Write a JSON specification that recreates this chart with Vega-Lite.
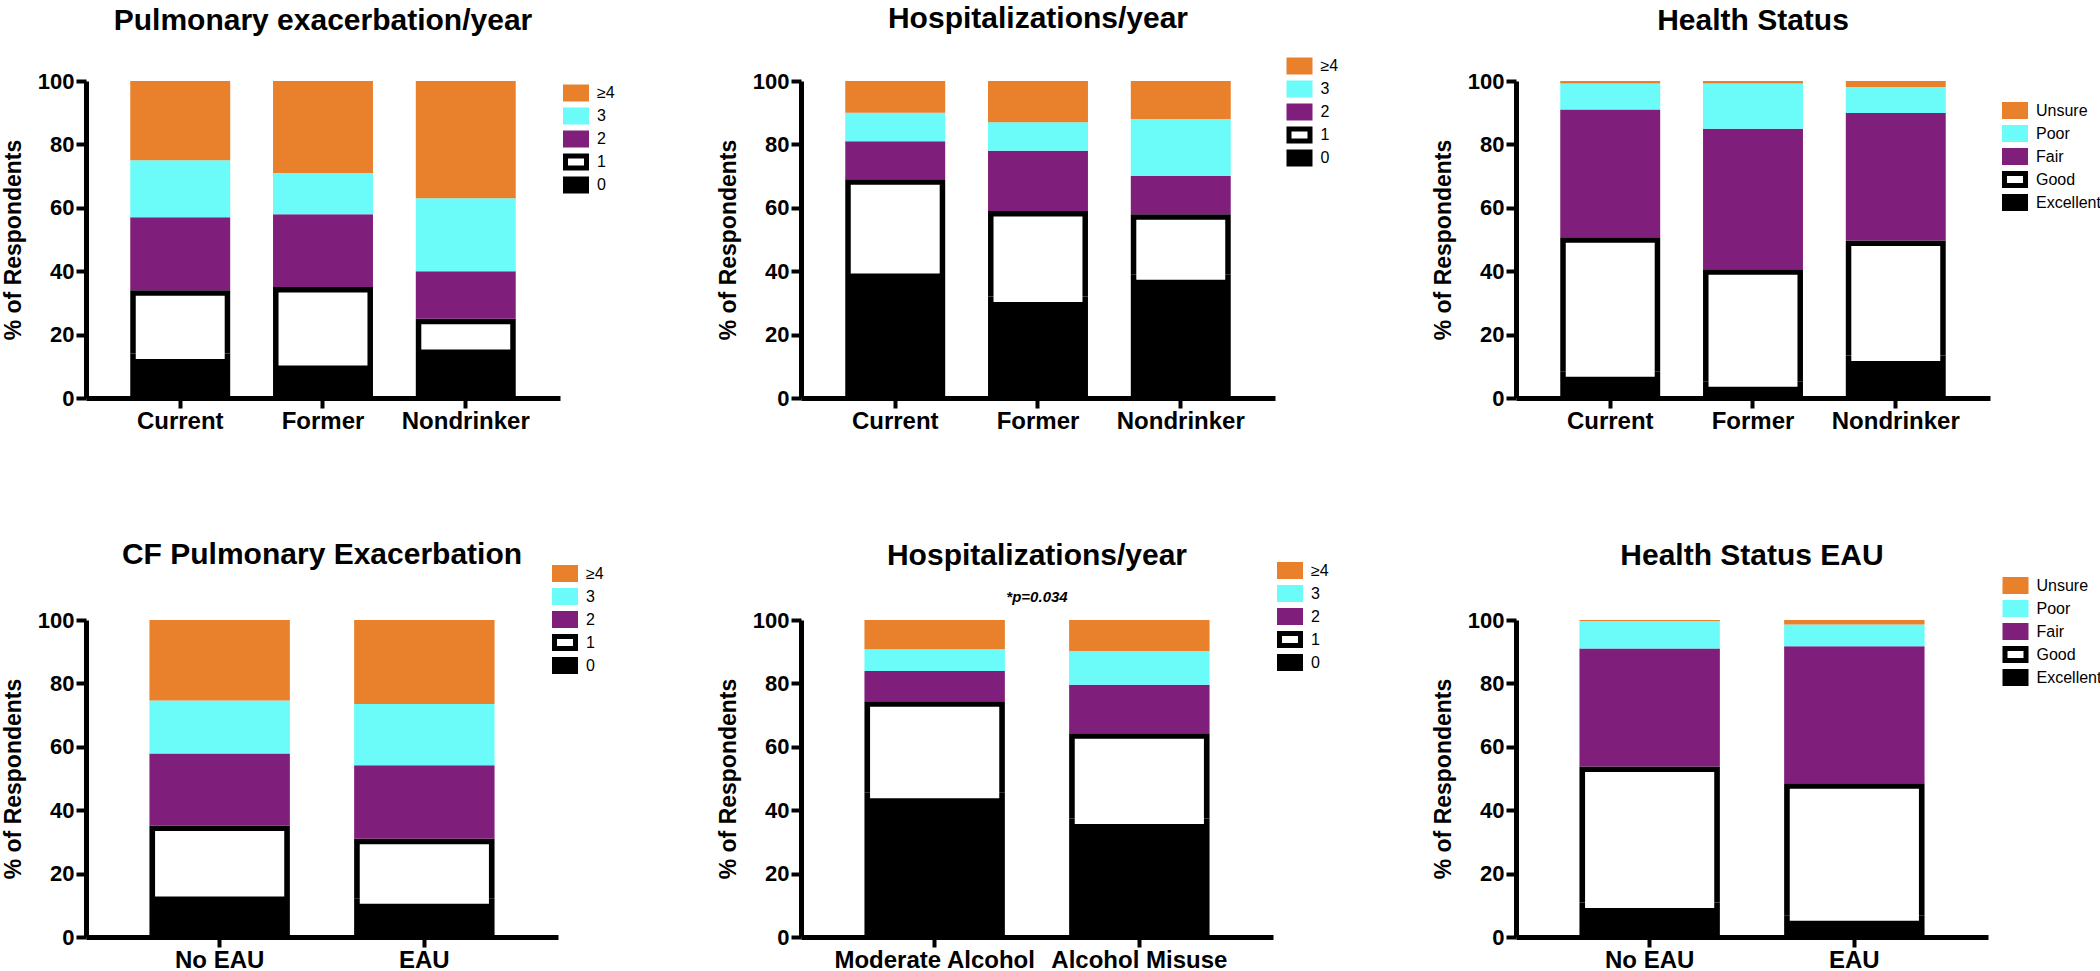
{
  "$schema": "https://vega.github.io/schema/vega-lite/v6.json",
  "padding": {"left": 2, "top": 3, "right": 0, "bottom": 0},
  "background": "white",
  "bounds": "flush",
  "spacing": 539,
  "resolve": {"scale": {"fill": "independent"}, "legend": {"fill": "independent"}},
  "datasets": {
    "pe": [
      {"g":"Current","c":"0","k":0,"v":14},{"g":"Current","c":"1","k":1,"v":20},{"g":"Current","c":"2","k":2,"v":23},{"g":"Current","c":"3","k":3,"v":18},{"g":"Current","c":"≥4","k":4,"v":25},
      {"g":"Former","c":"0","k":0,"v":12},{"g":"Former","c":"1","k":1,"v":23},{"g":"Former","c":"2","k":2,"v":23},{"g":"Former","c":"3","k":3,"v":13},{"g":"Former","c":"≥4","k":4,"v":29},
      {"g":"Nondrinker","c":"0","k":0,"v":17},{"g":"Nondrinker","c":"1","k":1,"v":8},{"g":"Nondrinker","c":"2","k":2,"v":15},{"g":"Nondrinker","c":"3","k":3,"v":23},{"g":"Nondrinker","c":"≥4","k":4,"v":37}
    ],
    "hosp": [
      {"g":"Current","c":"0","k":0,"v":41},{"g":"Current","c":"1","k":1,"v":28},{"g":"Current","c":"2","k":2,"v":12},{"g":"Current","c":"3","k":3,"v":9},{"g":"Current","c":"≥4","k":4,"v":10},
      {"g":"Former","c":"0","k":0,"v":32},{"g":"Former","c":"1","k":1,"v":27},{"g":"Former","c":"2","k":2,"v":19},{"g":"Former","c":"3","k":3,"v":9},{"g":"Former","c":"≥4","k":4,"v":13},
      {"g":"Nondrinker","c":"0","k":0,"v":39},{"g":"Nondrinker","c":"1","k":1,"v":19},{"g":"Nondrinker","c":"2","k":2,"v":12},{"g":"Nondrinker","c":"3","k":3,"v":18},{"g":"Nondrinker","c":"≥4","k":4,"v":12}
    ],
    "hs": [
      {"g":"Current","c":"Excellent","k":0,"v":8.4},{"g":"Current","c":"Good","k":1,"v":42.3},{"g":"Current","c":"Fair","k":2,"v":40.3},{"g":"Current","c":"Poor","k":3,"v":8.2},{"g":"Current","c":"Unsure","k":4,"v":0.8},
      {"g":"Former","c":"Excellent","k":0,"v":5.3},{"g":"Former","c":"Good","k":1,"v":35.3},{"g":"Former","c":"Fair","k":2,"v":44.3},{"g":"Former","c":"Poor","k":3,"v":14.3},{"g":"Former","c":"Unsure","k":4,"v":0.8},
      {"g":"Nondrinker","c":"Excellent","k":0,"v":13.4},{"g":"Nondrinker","c":"Good","k":1,"v":36.3},{"g":"Nondrinker","c":"Fair","k":2,"v":40.2},{"g":"Nondrinker","c":"Poor","k":3,"v":8.2},{"g":"Nondrinker","c":"Unsure","k":4,"v":1.9}
    ],
    "cfpe": [
      {"g":"No EAU","c":"0","k":0,"v":14.5},{"g":"No EAU","c":"1","k":1,"v":20.7},{"g":"No EAU","c":"2","k":2,"v":22.7},{"g":"No EAU","c":"3","k":3,"v":16.7},{"g":"No EAU","c":"≥4","k":4,"v":25.4},
      {"g":"EAU","c":"0","k":0,"v":12.2},{"g":"EAU","c":"1","k":1,"v":18.8},{"g":"EAU","c":"2","k":2,"v":23.2},{"g":"EAU","c":"3","k":3,"v":19.3},{"g":"EAU","c":"≥4","k":4,"v":26.5}
    ],
    "hosp2": [
      {"g":"Moderate Alcohol","c":"0","k":0,"v":45.5},{"g":"Moderate Alcohol","c":"1","k":1,"v":28.9},{"g":"Moderate Alcohol","c":"2","k":2,"v":9.5},{"g":"Moderate Alcohol","c":"3","k":3,"v":6.9},{"g":"Moderate Alcohol","c":"≥4","k":4,"v":9.2},
      {"g":"Alcohol Misuse","c":"0","k":0,"v":37.4},{"g":"Alcohol Misuse","c":"1","k":1,"v":26.9},{"g":"Alcohol Misuse","c":"2","k":2,"v":15.3},{"g":"Alcohol Misuse","c":"3","k":3,"v":10.6},{"g":"Alcohol Misuse","c":"≥4","k":4,"v":9.8}
    ],
    "hs2": [
      {"g":"No EAU","c":"Excellent","k":0,"v":10.9},{"g":"No EAU","c":"Good","k":1,"v":42.9},{"g":"No EAU","c":"Fair","k":2,"v":37.2},{"g":"No EAU","c":"Poor","k":3,"v":8.7},{"g":"No EAU","c":"Unsure","k":4,"v":0.3},
      {"g":"EAU","c":"Excellent","k":0,"v":6.9},{"g":"EAU","c":"Good","k":1,"v":41.6},{"g":"EAU","c":"Fair","k":2,"v":43.2},{"g":"EAU","c":"Poor","k":3,"v":6.9},{"g":"EAU","c":"Unsure","k":4,"v":1.4}
    ]
  },
  "vconcat": [
    {
      "bounds": "flush",
      "spacing": 241,
      "resolve": {"scale": {"fill": "independent"}, "legend": {"fill": "independent"}},
      "hconcat": [
        {
          "width": 474, "height": 317,
          "title": {"text": "Pulmonary exacerbation/year", "offset": 34},
          "data": {"name": "pe"},
          "encoding": {
            "x": {"field": "g", "type": "nominal", "sort": null, "title": null, "scale": {"paddingInner": 0.3, "paddingOuter": 0.31}},
            "y": {"field": "v", "type": "quantitative", "stack": "zero", "title": "% of Respondents", "scale": {"domain": [0, 100], "nice": false}, "axis": {"values": [0, 20, 40, 60, 80, 100]}},
            "order": {"field": "k", "type": "quantitative"}
          },
          "layer": [
            {"mark": {"type": "bar"}, "encoding": {"fill": {"field": "c", "type": "nominal", "scale": {"domain": ["≥4", "3", "2", "1", "0"], "range": ["#E8802C", "#6BFBF9", "#801F7B", "#000000", "#000000"]}, "legend": {"legendX": 481.5, "legendY": 3.5}}}},
            {"mark": {"type": "bar", "fill": "#FFFFFF", "width": {"band": 0.89}, "yOffset": 5.5}, "encoding": {"detail": {"field": "c"}, "fillOpacity": {"condition": {"test": "datum.c === '1' || datum.c === 'Good'", "value": 1}, "value": 0}}}
          ]
        },
        {
          "width": 474, "height": 317,
          "title": {"text": "Hospitalizations/year", "offset": 24},
          "data": {"name": "hosp"},
          "encoding": {
            "x": {"field": "g", "type": "nominal", "sort": null, "title": null, "scale": {"paddingInner": 0.3, "paddingOuter": 0.31}},
            "y": {"field": "v", "type": "quantitative", "stack": "zero", "title": "% of Respondents", "scale": {"domain": [0, 100], "nice": false}, "axis": {"values": [0, 20, 40, 60, 80, 100]}},
            "order": {"field": "k", "type": "quantitative"}
          },
          "layer": [
            {"mark": {"type": "bar"}, "encoding": {"fill": {"field": "c", "type": "nominal", "scale": {"domain": ["≥4", "3", "2", "1", "0"], "range": ["#E8802C", "#6BFBF9", "#801F7B", "#000000", "#000000"]}, "legend": {"legendX": 490, "legendY": -23.5}}}},
            {"mark": {"type": "bar", "fill": "#FFFFFF", "width": {"band": 0.89}, "yOffset": 5.5}, "encoding": {"detail": {"field": "c"}, "fillOpacity": {"condition": {"test": "datum.c === '1' || datum.c === 'Good'", "value": 1}, "value": 0}}}
          ]
        },
        {
          "width": 474, "height": 317,
          "title": {"text": "Health Status", "offset": 34},
          "data": {"name": "hs"},
          "encoding": {
            "x": {"field": "g", "type": "nominal", "sort": null, "title": null, "scale": {"paddingInner": 0.3, "paddingOuter": 0.31}},
            "y": {"field": "v", "type": "quantitative", "stack": "zero", "title": "% of Respondents", "scale": {"domain": [0, 100], "nice": false}, "axis": {"values": [0, 20, 40, 60, 80, 100]}},
            "order": {"field": "k", "type": "quantitative"}
          },
          "layer": [
            {"mark": {"type": "bar"}, "encoding": {"fill": {"field": "c", "type": "nominal", "scale": {"domain": ["Unsure", "Poor", "Fair", "Good", "Excellent"], "range": ["#E8802C", "#6BFBF9", "#801F7B", "#000000", "#000000"]}, "legend": {"legendX": 490.5, "legendY": 21}}}},
            {"mark": {"type": "bar", "fill": "#FFFFFF", "width": {"band": 0.89}, "yOffset": 5.5}, "encoding": {"detail": {"field": "c"}, "fillOpacity": {"condition": {"test": "datum.c === '1' || datum.c === 'Good'", "value": 1}, "value": 0}}}
          ]
        }
      ]
    },
    {
      "bounds": "flush",
      "spacing": 243,
      "resolve": {"scale": {"fill": "independent"}, "legend": {"fill": "independent"}},
      "hconcat": [
        {
          "width": 472, "height": 317,
          "title": {"text": "CF Pulmonary Exacerbation", "offset": -5},
          "data": {"name": "cfpe"},
          "encoding": {
            "x": {"field": "g", "type": "nominal", "sort": null, "title": null, "scale": {"paddingInner": 0.314, "paddingOuter": 0.31}},
            "y": {"field": "v", "type": "quantitative", "stack": "zero", "title": "% of Respondents", "scale": {"domain": [0, 100], "nice": false}, "axis": {"values": [0, 20, 40, 60, 80, 100]}},
            "order": {"field": "k", "type": "quantitative"}
          },
          "layer": [
            {"mark": {"type": "bar"}, "encoding": {"fill": {"field": "c", "type": "nominal", "scale": {"domain": ["≥4", "3", "2", "1", "0"], "range": ["#E8802C", "#6BFBF9", "#801F7B", "#000000", "#000000"]}, "legend": {"legendX": 470.5, "legendY": -55}}}},
            {"mark": {"type": "bar", "fill": "#FFFFFF", "width": {"band": 0.92}, "yOffset": 5.5}, "encoding": {"detail": {"field": "c"}, "fillOpacity": {"condition": {"test": "datum.c === '1' || datum.c === 'Good'", "value": 1}, "value": 0}}}
          ]
        },
        {
          "width": 472, "height": 317,
          "title": {"text": "Hospitalizations/year", "subtitle": "*p=0.034", "offset": -43},
          "data": {"name": "hosp2"},
          "encoding": {
            "x": {"field": "g", "type": "nominal", "sort": null, "title": null, "scale": {"paddingInner": 0.314, "paddingOuter": 0.31}},
            "y": {"field": "v", "type": "quantitative", "stack": "zero", "title": "% of Respondents", "scale": {"domain": [0, 100], "nice": false}, "axis": {"values": [0, 20, 40, 60, 80, 100]}},
            "order": {"field": "k", "type": "quantitative"}
          },
          "layer": [
            {"mark": {"type": "bar"}, "encoding": {"fill": {"field": "c", "type": "nominal", "scale": {"domain": ["≥4", "3", "2", "1", "0"], "range": ["#E8802C", "#6BFBF9", "#801F7B", "#000000", "#000000"]}, "legend": {"legendX": 480.5, "legendY": -58}}}},
            {"mark": {"type": "bar", "fill": "#FFFFFF", "width": {"band": 0.92}, "yOffset": 5.5}, "encoding": {"detail": {"field": "c"}, "fillOpacity": {"condition": {"test": "datum.c === '1' || datum.c === 'Good'", "value": 1}, "value": 0}}}
          ]
        },
        {
          "width": 472, "height": 317,
          "title": {"text": "Health Status EAU", "offset": 6},
          "data": {"name": "hs2"},
          "encoding": {
            "x": {"field": "g", "type": "nominal", "sort": null, "title": null, "scale": {"paddingInner": 0.314, "paddingOuter": 0.31}},
            "y": {"field": "v", "type": "quantitative", "stack": "zero", "title": "% of Respondents", "scale": {"domain": [0, 100], "nice": false}, "axis": {"values": [0, 20, 40, 60, 80, 100]}},
            "order": {"field": "k", "type": "quantitative"}
          },
          "layer": [
            {"mark": {"type": "bar"}, "encoding": {"fill": {"field": "c", "type": "nominal", "scale": {"domain": ["Unsure", "Poor", "Fair", "Good", "Excellent"], "range": ["#E8802C", "#6BFBF9", "#801F7B", "#000000", "#000000"]}, "legend": {"legendX": 491, "legendY": -43}}}},
            {"mark": {"type": "bar", "fill": "#FFFFFF", "width": {"band": 0.92}, "yOffset": 5.5}, "encoding": {"detail": {"field": "c"}, "fillOpacity": {"condition": {"test": "datum.c === '1' || datum.c === 'Good'", "value": 1}, "value": 0}}}
          ]
        }
      ]
    }
  ],
  "config": {
    "font": "Liberation Sans",
    "view": {"stroke": null},
    "bar": {"stroke": null},
    "axis": {"domainColor": "#000000", "domainWidth": 5, "tickColor": "#000000", "tickWidth": 4, "tickSize": 10, "labelColor": "#000000", "labelFontWeight": "bold", "titleColor": "#000000", "titleFontWeight": "bold", "grid": false, "labelLimit": 400},
    "axisY": {"labelFontSize": 22, "labelPadding": 2, "titleFontSize": 23, "titlePadding": 12},
    "axisX": {"labelFontSize": 24, "labelPadding": 1, "labelAngle": 0},
    "legend": {
      "orient": "none", "title": null, "padding": 0,
      "symbolType": {"expr": "datum.value === '1' || datum.value === 'Good' ? 'M-1.53,-1H1.53V1H-1.53Z M-0.94,-0.41V0.41H0.94V-0.41Z' : 'M-1.53,-1H1.53V1H-1.53Z'"},
      "symbolSize": 289, "symbolStrokeWidth": 0,
      "labelFontSize": 16, "labelColor": "#000000", "labelOffset": 12.5, "rowPadding": 6
    },
    "title": {"fontSize": 30, "fontWeight": "bold", "color": "#000000", "anchor": "middle", "frame": "group", "subtitleFontSize": 15, "subtitleFontStyle": "italic", "subtitleFontWeight": "bold", "subtitleColor": "#000000", "subtitlePadding": 19}
  }
}
